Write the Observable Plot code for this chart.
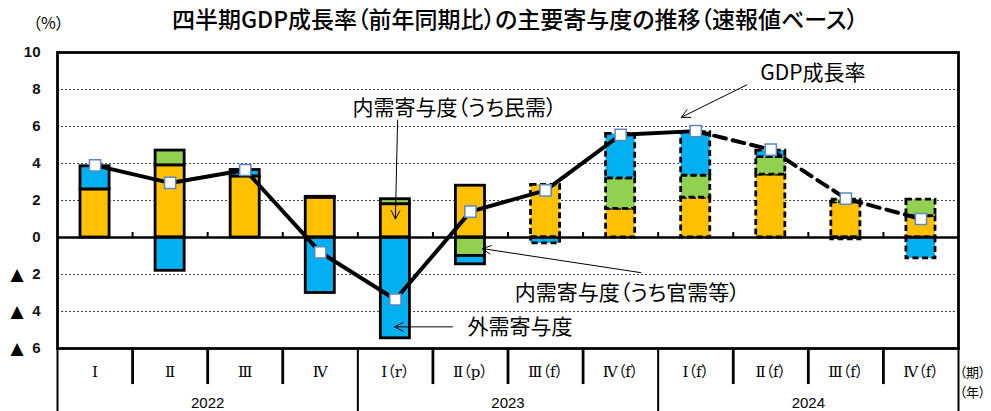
<!DOCTYPE html>
<html>
<head>
<meta charset="utf-8">
<script src="https://cdn.jsdelivr.net/npm/d3@7"></script>
<script src="https://cdn.jsdelivr.net/npm/@observablehq/plot@0.6"></script>
<style>
  html, body { margin: 0; padding: 0; background: #fff; }
  #wrap { width: 991px; height: 411px; overflow: hidden; position: relative; font-feature-settings: "palt"; }
  #head { position: relative; height: 36px; font-family: "Noto Sans CJK JP", sans-serif; }
  #title { position: absolute; left: 0; width: 1030px; top: 1px; text-align: center; font-size: 23px; font-weight: 500; color: #000; font-feature-settings: "palt"; }
  #unit { position: absolute; left: 33px; top: 10px; font-size: 16px; color: #000; font-feature-settings: "palt"; }
  svg { display: block; font-feature-settings: "palt"; }
</style>
</head>
<body>
<div id="wrap">
  <div id="head">
    <div id="title">四半期GDP成長率（前年同期比）の主要寄与度の推移（速報値ベース）</div>
    <div id="unit">（%）</div>
  </div>
  <div id="chart"></div>
</div>
<script>
// ---- data ----
const quarters = ["Ⅰ", "Ⅱ", "Ⅲ", "Ⅳ", "Ⅰ（r）", "Ⅱ（p）", "Ⅲ（f）", "Ⅳ（f）", "Ⅰ（f）", "Ⅱ（f）", "Ⅲ（f）", "Ⅳ（f）"];
const years = ["2022", "2023", "2024"];
const privateDemand = [2.6, 3.9, 3.3, 2.15, 1.8, 2.8, 2.85, 1.55, 2.15, 3.4, 1.9, 1.15];
const publicDemand = [0, 0.8, 0, 0.05, 0.27, -1.0, 0, 1.65, 1.2, 0.95, 0.15, 0.9];
const externalDemand = [1.25, -1.8, 0.35, -3.0, -5.45, -0.45, -0.32, 2.4, 2.35, 0.35, -0.1, -1.13];
const gdpGrowth = [3.9, 2.95, 3.65, -0.8, -3.35, 1.4, 2.55, 5.55, 5.75, 4.75, 2.1, 1.0];
const forecast = [false, false, false, false, false, false, true, true, true, true, true, true];
const yTicks = [10, 8, 6, 4, 2, 0, -2, -4, -6];
const gridValues = [8, 6, 4, 2, -2, -4];
const seriesNames = ["民需", "官需等", "外需"];
const seriesColors = ["#FFC000", "#92D050", "#00B0F0"];

// annotation texts with anchor positions in data units (x: quarter index, y: %)
const notes = [
  {text: "GDP成長率", x: 9.36, y: 8.86},
  {text: "内需寄与度（うち民需）", x: 3.93, y: 6.97},
  {text: "内需寄与度（うち官需等）", x: 6.09, y: -3.03},
  {text: "外需寄与度", x: 5.46, y: -4.83}
];
const noteArrows = [
  {x1: 9.18, y1: 8.25, x2: 8.31, y2: 6.5},
  {x1: 4.53, y1: 6.35, x2: 4.5, y2: 1.0},
  {x1: 7.77, y1: -1.9, x2: 5.66, y2: -0.6},
  {x1: 5.26, y1: -4.83, x2: 4.49, y2: -4.83}
];

// ---- build tables ----
const segments = [];
quarters.forEach((q, i) => {
  [privateDemand[i], publicDemand[i], externalDemand[i]].forEach((v, s) => {
    if (v !== 0) segments.push({i, i1: i + 1, series: seriesNames[s], value: v, forecast: forecast[i]});
  });
});
const gdp = gdpGrowth.map((v, i) => ({x: i + 0.5, y: v, i}));
const gdpActual = gdp.filter(d => d.i <= 8);
const gdpForecast = gdp.filter(d => d.i >= 8);

const quarterIdx = quarters.map((q, i) => i);
const innerBounds = quarterIdx.filter(i => i > 0 && i % 4 !== 0);
const yearBounds = [0, 4, 8, 12];

const color = {domain: seriesNames, range: seriesColors};
const font = "'Liberation Sans', 'Noto Sans CJK JP', sans-serif";
const jp = "'Noto Sans CJK JP', sans-serif";

const barOpts = (data, dash) => Plot.rectY(data, {
  x1: "i", x2: "i1", y: "value", fill: "series",
  stroke: "#000", strokeWidth: 2.8, strokeDasharray: dash,
  insetLeft: 23, insetRight: 23
});

const chart = Plot.plot({
  width: 991,
  height: 375,
  marginTop: 16,
  marginBottom: 63,
  marginLeft: 57,
  marginRight: 33,
  style: {fontFamily: font, background: "#fff", overflow: "visible"},
  x: {domain: [0, 12], axis: null},
  y: {domain: [-6, 10], axis: null},
  color,
  marks: [
    Plot.ruleY(gridValues, {stroke: "#444", strokeWidth: 1, strokeDasharray: "2,2"}),
    barOpts(segments.filter(d => !d.forecast), null),
    barOpts(segments.filter(d => d.forecast), "6,3.5"),
    Plot.ruleY([0], {stroke: "#000", strokeWidth: 2.5}),
    Plot.ruleX(quarterIdx.filter(i => i > 0), {x: d => d, y1: 0, y2: 0.27, stroke: "#000", strokeWidth: 2}),
    Plot.line(gdpActual, {x: "x", y: "y", stroke: "#000", strokeWidth: 4}),
    Plot.line(gdpForecast, {x: "x", y: "y", stroke: "#000", strokeWidth: 4, strokeDasharray: "12,7"}),
    Plot.dot(gdp, {x: "x", y: "y", symbol: "square", r: 6.3, fill: "#fff", stroke: "#5b87c5", strokeWidth: 1.5}),
    Plot.frame({stroke: "#000", strokeWidth: 2.8}),
    // y tick labels
    Plot.text(yTicks, {x: () => 0, y: d => d, text: d => String(Math.abs(d)), textAnchor: "end", dx: -17, fontSize: 15, fontWeight: "bold", fill: "#111"}),
    Plot.text(yTicks.filter(d => d < 0), {x: () => 0, y: d => d, text: () => "▲", textAnchor: "end", dx: -34, fontSize: 17, fontFamily: "'DejaVu Sans', sans-serif", fill: "#000"}),
    // bottom table
    Plot.ruleX(innerBounds, {x: d => d, y1: -6, y2: -7.95, stroke: "#000", strokeWidth: 2.8}),
    Plot.ruleX(yearBounds, {x: d => d, y1: -6, y2: -9.6, stroke: "#000", strokeWidth: 2}),
    Plot.text(quarters, {x: (d, i) => i + 0.5, y: () => -7.3, text: d => d, fontSize: 15, fontFamily: "'DejaVu Serif', 'Noto Sans CJK JP', serif", fill: "#000"}),
    Plot.text(years, {x: (d, i) => i * 4 + 2, y: () => -8.95, text: d => d, fontSize: 15, fill: "#000"}),
    Plot.text(["（期）", "（年）"], {x: () => 12, y: (d, i) => i === 0 ? -7.3 : -8.4, text: d => d, textAnchor: "start", dx: 1, fontSize: 13, fontFamily: jp, fill: "#000"}),
    // annotations
    Plot.arrow(noteArrows, {x1: "x1", y1: "y1", x2: "x2", y2: "y2", stroke: "#000", strokeWidth: 1, headLength: 14, headAngle: 55}),
    Plot.text(notes, {x: "x", y: "y", text: "text", textAnchor: "start", fontSize: 21, fontFamily: jp, fill: "#000"})
  ]
});
document.getElementById("chart").appendChild(chart);
</script>
</body>
</html>
